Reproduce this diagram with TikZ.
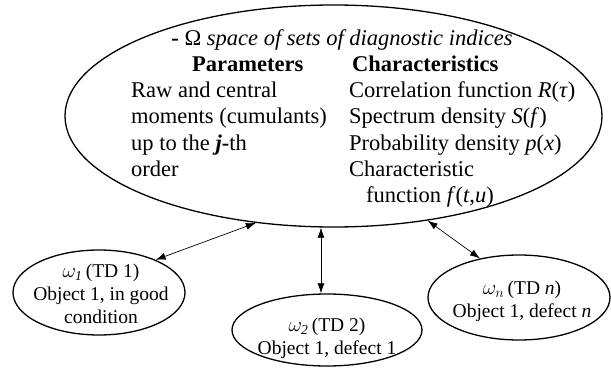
\documentclass[tikz,border=0pt]{standalone}
\usepackage{fontspec}
\setmainfont{Liberation Serif}
\usetikzlibrary{shapes.geometric,arrows.meta}
\begin{document}
\begin{tikzpicture}[x=1pt,y=-1pt,
  oval/.style={draw,ellipse,line width=1.3pt,inner sep=0pt},
  link/.style={{Latex[length=10pt,width=7pt]}-{Latex[length=10pt,width=7pt]},line width=0.7pt},
  txt/.style={font=\fontsize{22.5}{26}\selectfont,inner sep=0pt},
  stxt/.style={font=\fontsize{19.5}{23}\selectfont,inner sep=0pt,align=center}]
\useasboundingbox (0,0) rectangle (611,369);
\node[oval,minimum width=172pt,minimum height=85pt] (e1) at (99,292.5) {};
\node[oval,minimum width=190pt,minimum height=72pt] (e2) at (327,330) {};
\node[oval,minimum width=182pt,minimum height=85pt] (en) at (519,297.5) {};
\node[oval,minimum width=537pt,minimum height=222pt] (big) at (333.5,116) {};
% texts in big ellipse
\node[txt,anchor=base] (title) at (342,46) {\textbf{-} Ω \textit{space of sets of diagnostic indices}};
\node[txt,anchor=base west] (hp) at (192,72) {\textbf{Parameters}};
\node[txt,anchor=base west] (hc) at (352,72) {\textbf{Characteristics}};
\node[txt,anchor=base west] (cp1) at (131,98) {Raw and central};
\node[txt,anchor=base west] (cp2) at (131,124) {moments (cumulants)};
\node[txt,anchor=base west] (cp3) at (131,150) {up to the \textbf{\textit{j}-}th};
\node[txt,anchor=base west] (cp4) at (131,176) {order};
\node[txt,anchor=base west] (cc1) at (349,98) {Correlation function \textit{R}(\textit{τ})};
\node[txt,anchor=base west] (cc2) at (349,124) {Spectrum density \textit{S}(\textit{f})};
\node[txt,anchor=base west] (cc3) at (349,150) {Probability density \textit{p}(\textit{x})};
\node[txt,anchor=base west] (cc4) at (349,176) {Characteristic};
\node[txt,anchor=base west] (cc5) at (366,202) {function \textit{f}(\textit{t},\textit{u})};
% small ellipse texts
\node[stxt,anchor=base] (t1a) at (101,277) {$\omega_{\mathit{1}}$\,(TD 1)};
\node[stxt,anchor=base] (t1b) at (101,300) {Object 1, in good};
\node[stxt,anchor=base] (t1c) at (101,323) {condition};
\node[stxt,anchor=base] (t2a) at (327,331) {$\omega_{\mathit{2}}$\,(TD 2)};
\node[stxt,anchor=base] (t2b) at (327,354) {Object 1, defect 1};
\node[stxt,anchor=base] (tna) at (522,294) {$\omega_{n}$\,(TD \textit{n})};
\node[stxt,anchor=base] (tnb) at (522,317) {Object 1, defect \textit{n}};
% connectors
\draw[link] (e1.30) -- (big.234);
\coordinate (ax) at (321,0);
\draw[link] (e2.north -| ax) -- (big.south -| ax);
\draw[link] (en.135) -- (big.312);
\end{tikzpicture}
\end{document}
